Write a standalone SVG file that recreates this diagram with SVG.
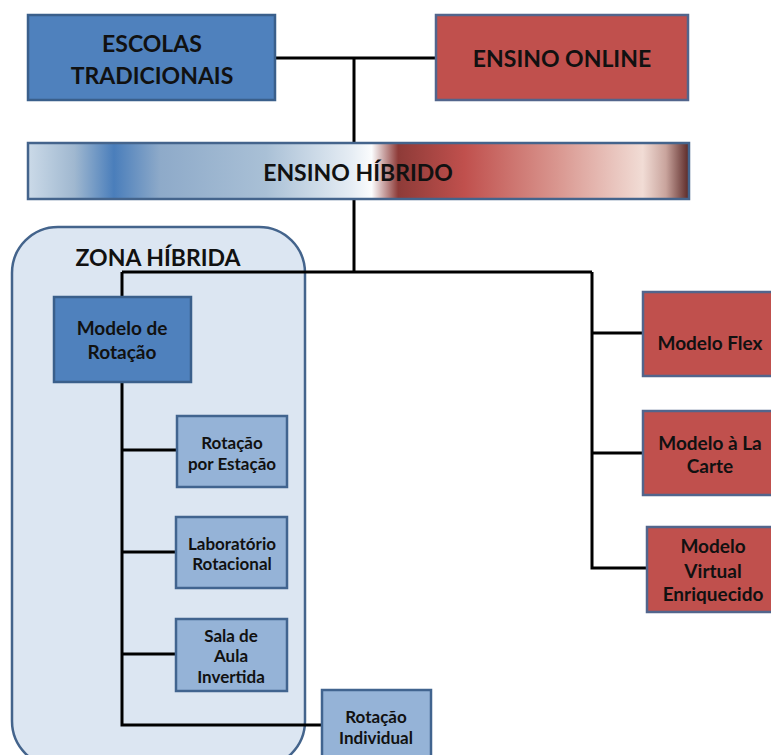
<svg xmlns="http://www.w3.org/2000/svg" width="771" height="755" viewBox="0 0 771 755">
<style>
text{font-family:Lato,"Open Sans","Liberation Sans",sans-serif;font-weight:bold;fill:#111;text-anchor:middle;dominant-baseline:central}
.big{font-size:23px}
.mid{font-size:19px}
.sm{font-size:17px}
.blue{fill:#4f81bd;stroke:#3a5f8b;stroke-width:2.5}
.red{fill:#c0504d;stroke:#52658c;stroke-width:2.5}
.lb{fill:#95b3d7;stroke:#41648f;stroke-width:2.5}
.ln{fill:none;stroke:#000;stroke-width:3}
</style>
<defs>
<linearGradient id="hg" x1="0" y1="0" x2="1" y2="0">
<stop offset="0" stop-color="#cbdae8"/>
<stop offset="0.07" stop-color="#a0b8d0"/>
<stop offset="0.13" stop-color="#4a7ebb"/>
<stop offset="0.2" stop-color="#8eaac9"/>
<stop offset="0.36" stop-color="#a9c0d6"/>
<stop offset="0.49" stop-color="#e6edf4"/>
<stop offset="0.52" stop-color="#fbfcfd"/>
<stop offset="0.56" stop-color="#8e3b38"/>
<stop offset="0.66" stop-color="#c0504d"/>
<stop offset="0.8" stop-color="#d9968f"/>
<stop offset="0.93" stop-color="#f1dcd5"/>
<stop offset="0.965" stop-color="#c9a49d"/>
<stop offset="1" stop-color="#5a2826"/>
</linearGradient>
</defs>
<rect width="771" height="755" fill="#fff"/>
<g id="zona-hibrida">
<rect x="12" y="227" width="293" height="540" rx="46" ry="46" fill="#dce6f2" stroke="#44648c" stroke-width="2.5"/>
<text class="big" x="158" y="257">ZONA HÍBRIDA</text>
</g>
<g id="connectors">
<path class="ln" d="M275 58H436M354 58V143"/>
<path class="ln" d="M354 199V272M122 272H592M122 272V297"/>
<path class="ln" d="M122 382V725H322M122 450H177M122 552H176M122 654H176"/>
<path class="ln" d="M592 272V568H647M592 333H643M592 453H643"/>
</g>
<g id="escolas-tradicionais">
<rect class="blue" x="28" y="15" width="247" height="85"/>
<text class="big" x="152" y="43">ESCOLAS</text>
<text class="big" x="152" y="75">TRADICIONAIS</text>
</g>
<g id="ensino-online">
<rect class="red" x="436" y="15" width="252" height="85"/>
<text class="big" x="562" y="58">ENSINO ONLINE</text>
</g>
<g id="ensino-hibrido">
<rect x="28" y="143" width="661" height="56" fill="url(#hg)" stroke="#44648c" stroke-width="2.5"/>
<text class="big" x="358" y="172">ENSINO HÍBRIDO</text>
</g>
<g id="modelo-rotacao">
<rect class="blue" x="54" y="297" width="137" height="85"/>
<text class="mid" x="122" y="327">Modelo de</text>
<text class="mid" x="122" y="351">Rotação</text>
</g>
<g id="rotacao-estacao">
<rect class="lb" x="177" y="416" width="110" height="71"/>
<text class="sm" x="232" y="442">Rotação</text>
<text class="sm" x="232" y="463">por Estação</text>
</g>
<g id="laboratorio-rotacional">
<rect class="lb" x="176" y="517" width="111" height="71"/>
<text class="sm" x="232" y="543">Laboratório</text>
<text class="sm" x="232" y="563">Rotacional</text>
</g>
<g id="sala-aula-invertida">
<rect class="lb" x="176" y="619" width="111" height="72"/>
<text class="sm" x="231" y="635">Sala de</text>
<text class="sm" x="231" y="655">Aula</text>
<text class="sm" x="231" y="676">Invertida</text>
</g>
<g id="rotacao-individual">
<rect class="lb" x="322" y="690" width="109" height="80"/>
<text class="sm" x="376" y="716">Rotação</text>
<text class="sm" x="376" y="737">Individual</text>
</g>
<g id="modelo-flex">
<rect class="red" x="643" y="292" width="134" height="84"/>
<text class="mid" x="710" y="342">Modelo Flex</text>
</g>
<g id="modelo-la-carte">
<rect class="red" x="643" y="411" width="134" height="84"/>
<text class="mid" x="710" y="442">Modelo à La</text>
<text class="mid" x="710" y="465">Carte</text>
</g>
<g id="modelo-virtual">
<rect class="red" x="647" y="527" width="134" height="85"/>
<text class="mid" x="713" y="545">Modelo</text>
<text class="mid" x="713" y="570">Virtual</text>
<text class="mid" x="713" y="593">Enriquecido</text>
</g>
</svg>
